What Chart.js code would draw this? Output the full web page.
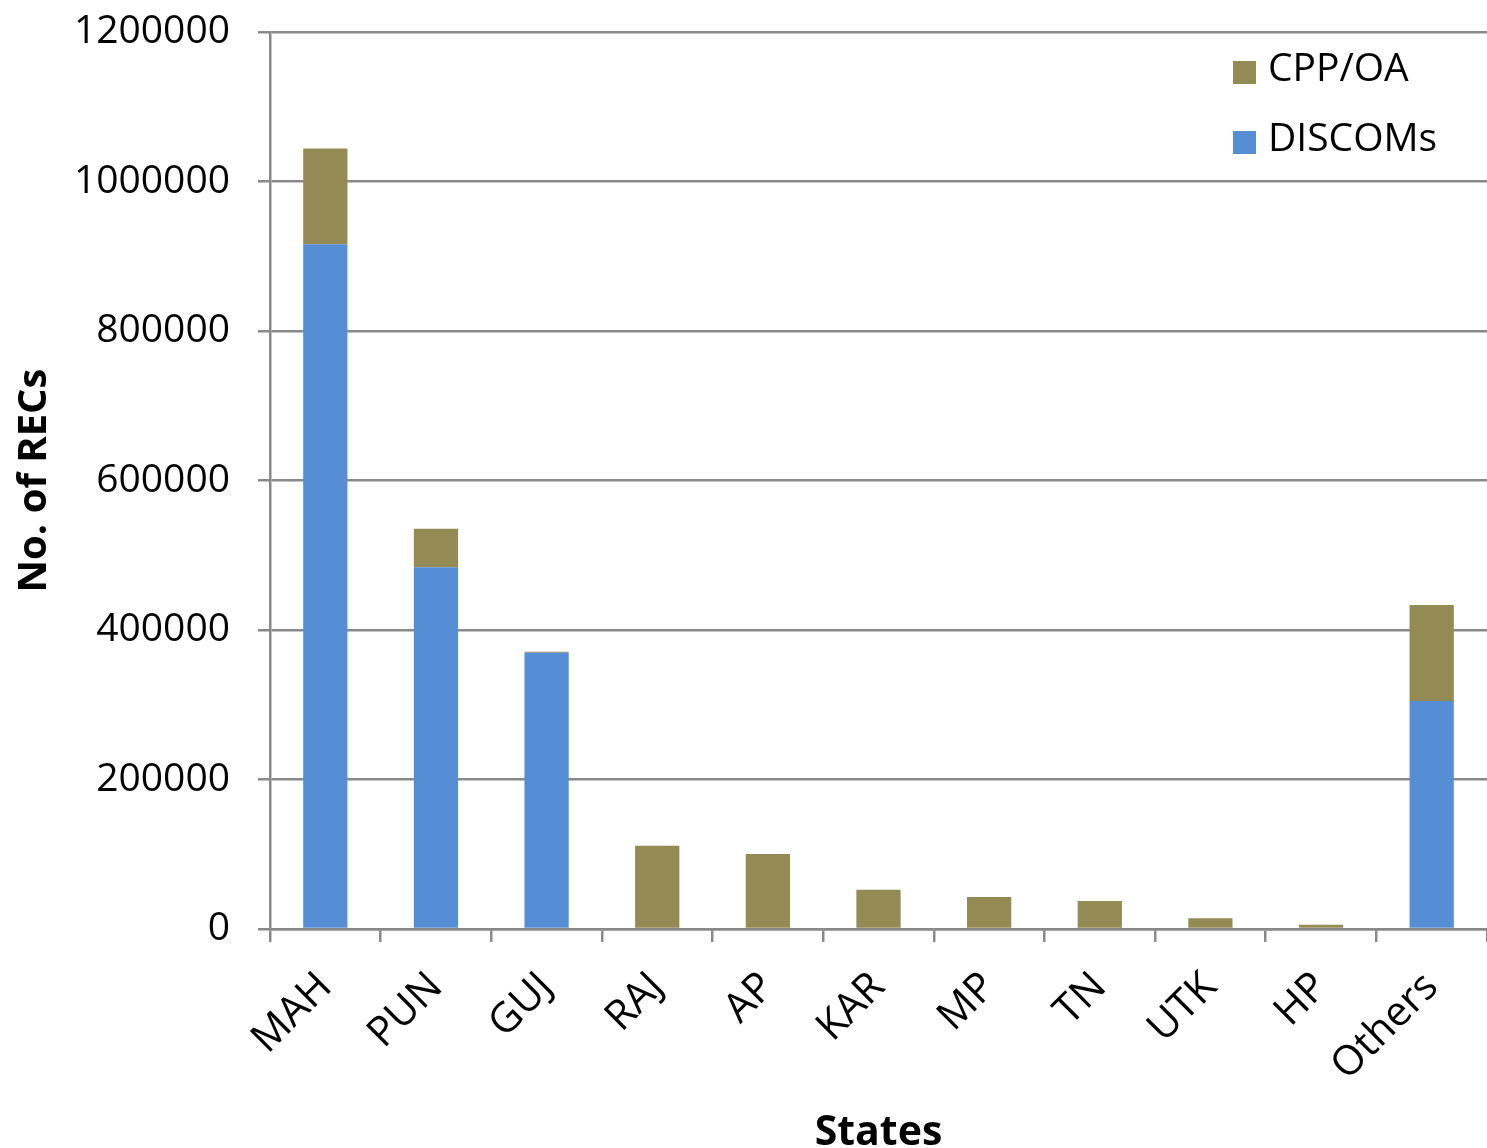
<!DOCTYPE html>
<html>
<head>
<meta charset="utf-8">
<script src="https://cdn.jsdelivr.net/npm/chart.js@4.4.1/dist/chart.umd.min.js"></script>
<style>
html,body{margin:0;padding:0;background:#fff;}
#wrap{width:1487px;height:1148px;position:relative;}
</style>
</head>
<body>
<div id="wrap"><canvas id="c" width="1487" height="1148"></canvas></div>
<script>
const categories = ["MAH","PUN","GUJ","RAJ","AP","KAR","MP","TN","UTK","HP","Others"];
const discoms = [916000, 484000, 369500, 0, 0, 0, 0, 0, 0, 0, 305000];
const cppOa   = [128000, 51500, 1500, 111500, 100400, 52600, 42800, 37500, 14300, 5800, 128500];
const yTicks  = [0, 200000, 400000, 600000, 800000, 1000000, 1200000];

const FONT = "'Open Sans', 'Noto Sans', sans-serif";
const GRID = '#898989';

const legendPlugin = {
  id: 'customLegend',
  afterDraw(chart) {
    const ctx = chart.ctx;
    const ca = chart.chartArea;
    const items = [
      {label: 'CPP/OA', color: '#948A54'},
      {label: 'DISCOMs', color: '#558ED5'}
    ];
    ctx.save();
    ctx.font = '39px ' + FONT;
    ctx.textBaseline = 'middle';
    const x0 = ca.right - 254;
    const y0 = ca.top + 40;
    items.forEach((it, i) => {
      const y = y0 + i * 70;
      ctx.fillStyle = it.color;
      ctx.fillRect(x0, y - 11, 23, 23);
      ctx.fillStyle = '#000';
      ctx.fillText(it.label, x0 + 35, y - 2);
    });
    ctx.restore();
  }
};

new Chart(document.getElementById('c'), {
  type: 'bar',
  data: {
    labels: categories,
    datasets: [
      {label: 'DISCOMs', data: discoms, backgroundColor: '#558ED5', barPercentage: 0.4, categoryPercentage: 1.0},
      {label: 'CPP/OA', data: cppOa, backgroundColor: '#948A54', barPercentage: 0.4, categoryPercentage: 1.0}
    ]
  },
  options: {
    responsive: false,
    animation: false,
    devicePixelRatio: 1,
    layout: {padding: {top: 32, right: 0, left: 0, bottom: 0}},
    plugins: {legend: {display: false}, tooltip: {enabled: false}},
    scales: {
      x: {
        stacked: true,
        offset: true,
        grid: {display: true, drawOnChartArea: false, drawTicks: true, tickLength: 13, color: GRID, lineWidth: 2.5, offset: true},
        border: {display: true, color: GRID, width: 2.5},
        ticks: {color: '#000', font: {family: FONT, size: 41}, minRotation: 45, maxRotation: 45, padding: 21, autoSkip: false},
        title: {display: true, text: 'States', color: '#000', font: {family: FONT, size: 41, weight: 'bold'}, padding: {top: 0, bottom: -10}},
        afterFit(scale) { scale.height = 219; scale.paddingLeft = 0; scale.paddingRight = 0; }
      },
      y: {
        stacked: true,
        min: 0,
        max: 1200000,
        afterBuildTicks(scale) { scale.ticks = yTicks.map(v => ({value: v})); },
        grid: {color: GRID, lineWidth: 2.5, drawTicks: true, tickLength: 12},
        border: {display: true, color: GRID, width: 2.5},
        ticks: {color: '#000', font: {family: FONT, size: 39}, padding: 28, callback: v => String(v)},
        title: {display: true, text: 'No. of RECs', color: '#000', font: {family: FONT, size: 40, weight: 'bold'}, padding: {top: 11, bottom: 0}},
        afterFit(scale) { scale.width = 270; scale.paddingTop = 0; scale.paddingBottom = 0; }
      }
    }
  },
  plugins: [legendPlugin]
});
</script>
</body>
</html>
